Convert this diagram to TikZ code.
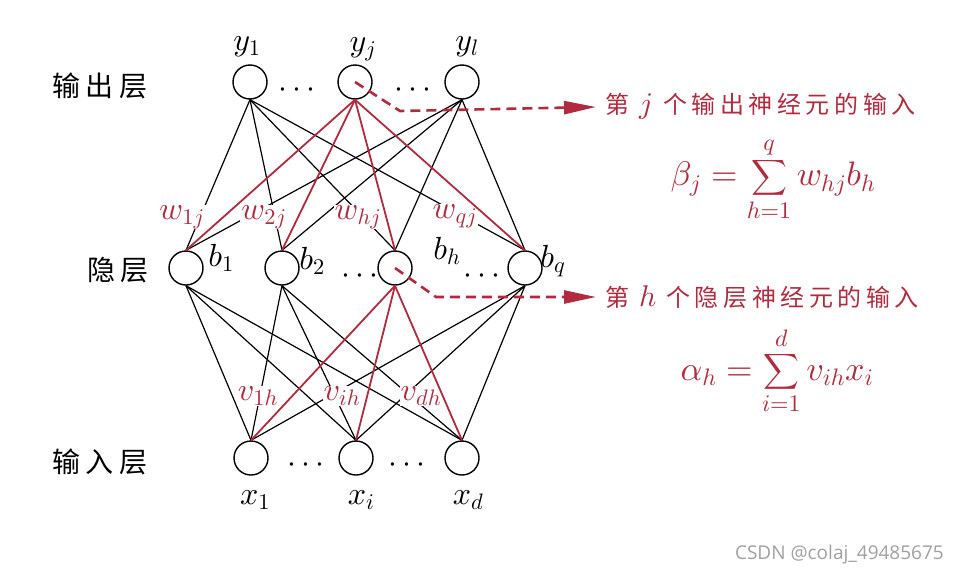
\RequirePackage{fix-cm}
\documentclass[tikz,border=0pt]{standalone}
\usepackage{exscale}
\usepackage{fontspec}
\DeclareFontShape{OML}{cmm}{m}{it}{<-> cmmi10}{}
\DeclareFontShape{OT1}{cmr}{m}{n}{<-> cmr10}{}
\DeclareFontShape{OMS}{cmsy}{m}{n}{<-> cmsy10}{}
\newfontfamily\cjkL[LetterSpace=18]{Noto Sans CJK SC}
\newfontfamily\cjkN[LetterSpace=19]{Noto Sans CJK SC}
\newfontfamily\wmfont{Open Sans}
\usetikzlibrary{arrows.meta}
\definecolor{rd}{RGB}{178,42,62}
\definecolor{wmgray}{RGB}{160,160,160}
\begin{document}
\begin{tikzpicture}[x=1pt,y=-1pt,
  neuron/.style={circle,draw,line width=1.4pt,minimum size=34pt,inner sep=0pt},
  mlab/.style={font=\fontsize{32}{36}\selectfont,inner sep=0pt},
  wlab/.style={font=\fontsize{32}{36}\selectfont,text=rd,fill=white,inner sep=1pt},
  conn/.style={line width=1.2pt},
  rconn/.style={line width=1.8pt,draw=rd},
  layer/.style={font=\cjkL\fontsize{28}{30}\selectfont,inner sep=0pt},
  note/.style={font=\cjkN\fontsize{24}{28}\selectfont,text=rd,anchor=west,inner sep=0pt},
  formula/.style={font=\fontsize{34}{38}\selectfont,text=rd,inner sep=0pt},
  dasharrow/.style={draw=rd,line width=2.6pt,dash pattern=on 10pt off 6pt,-{Triangle[length=32pt,width=13pt]}}
]
\useasboundingbox (0,0) rectangle (958,576);

% neurons
\node[neuron] (y1) at (250,82) {};
\node[neuron] (yj) at (355,82) {};
\node[neuron] (yl) at (462,82) {};
\node[neuron] (b1) at (186,268) {};
\node[neuron] (b2) at (282,268) {};
\node[neuron] (bh) at (395,268) {};
\node[neuron] (bq) at (525,268) {};
\node[neuron] (x1) at (251,458) {};
\node[neuron] (xi) at (356,458) {};
\node[neuron] (xd) at (462,458) {};

% black connections
\foreach \o in {y1,yl}
  \foreach \h in {b1,b2,bh,bq}
    \draw[conn] (\o.south) -- (\h.north);
\foreach \h in {b1,b2,bq}
  \foreach \i in {x1,xi,xd}
    \draw[conn] (\h.south) -- (\i.north);

% weight labels
\node[wlab] (w1) at (182,217) {$w_{1j}$};
\node[wlab] (w2) at (264,217) {$w_{2j}$};
\node[wlab] (wh) at (358,217) {$w_{hj}$};
\node[wlab] (wq) at (455,216) {$w_{qj}$};
\node[wlab] (v1) at (258,396) {$v_{1h}$};
\node[wlab] (vi) at (342,396) {$v_{ih}$};
\node[wlab] (vd) at (421,396) {$v_{dh}$};

% red connections
\foreach \h in {b1,b2,bh,bq}
  \draw[rconn] (yj.south) -- (\h.north);
\foreach \i in {x1,xi,xd}
  \draw[rconn] (bh.south) -- (\i.north);

% neuron labels
\node[mlab] (ly1) at (247,47) {$y_1$};
\node[mlab] (lyj) at (363,49) {$y_j$};
\node[mlab] (lyl) at (467,47) {$y_l$};
\node[mlab] (lb1) at (221,258) {$b_1$};
\node[mlab] (lb2) at (312,261) {$b_2$};
\node[mlab] (lbh) at (447,251) {$b_h$};
\node[mlab] (lbq) at (553,261) {$b_q$};
\node[mlab] (lx1) at (255,500) {$x_1$};
\node[mlab] (lxi) at (361,500) {$x_i$};
\node[mlab] (lxd) at (468,500) {$x_d$};

% dots
\node[mlab] (dy1) at (297,90) {$\cdots$};
\node[mlab] (dy2) at (413,90) {$\cdots$};
\node[mlab] (dh1) at (360,276) {$\cdots$};
\node[mlab] (dh2) at (482,276) {$\cdots$};
\node[mlab] (dx1) at (306,465) {$\cdots$};
\node[mlab] (dx2) at (407,465) {$\cdots$};

% layer names
\node[layer] (lo) at (100,86) {输出层};
\node[layer] (lh) at (118,270) {隐层};
\node[layer] (li) at (100,462) {输入层};

% dashed arrows
\coordinate (k1) at (400,111);
\coordinate (e1) at (596,107);
\coordinate (k2) at (436,297);
\coordinate (e2) at (596,297);
\draw[dasharrow] (yj.center) -- (k1) -- (e1);
\draw[dasharrow] (bh.center) -- (k2) -- (e2);

% notes
\node[note] (n1) at (605,106) {第 {\fontsize{30}{30}\selectfont$j$} 个输出神经元的输入};
\node[note] (n2) at (605,297) {第 {\fontsize{30}{30}\selectfont$h$} 个隐层神经元的输入};
\node[formula] (f1) at (773,179) {$\displaystyle \beta_j = \sum_{h=1}^{q} w_{hj} b_h$};
\node[formula] (f2) at (777,371) {$\displaystyle \alpha_h = \sum_{i=1}^{d} v_{ih} x_i$};

% watermark
\node[font=\wmfont\fontsize{19}{22}\selectfont,text=wmgray,anchor=east,inner sep=0pt] (wm) at (944,555) {CSDN @colaj\_49485675};
\end{tikzpicture}
\end{document}
